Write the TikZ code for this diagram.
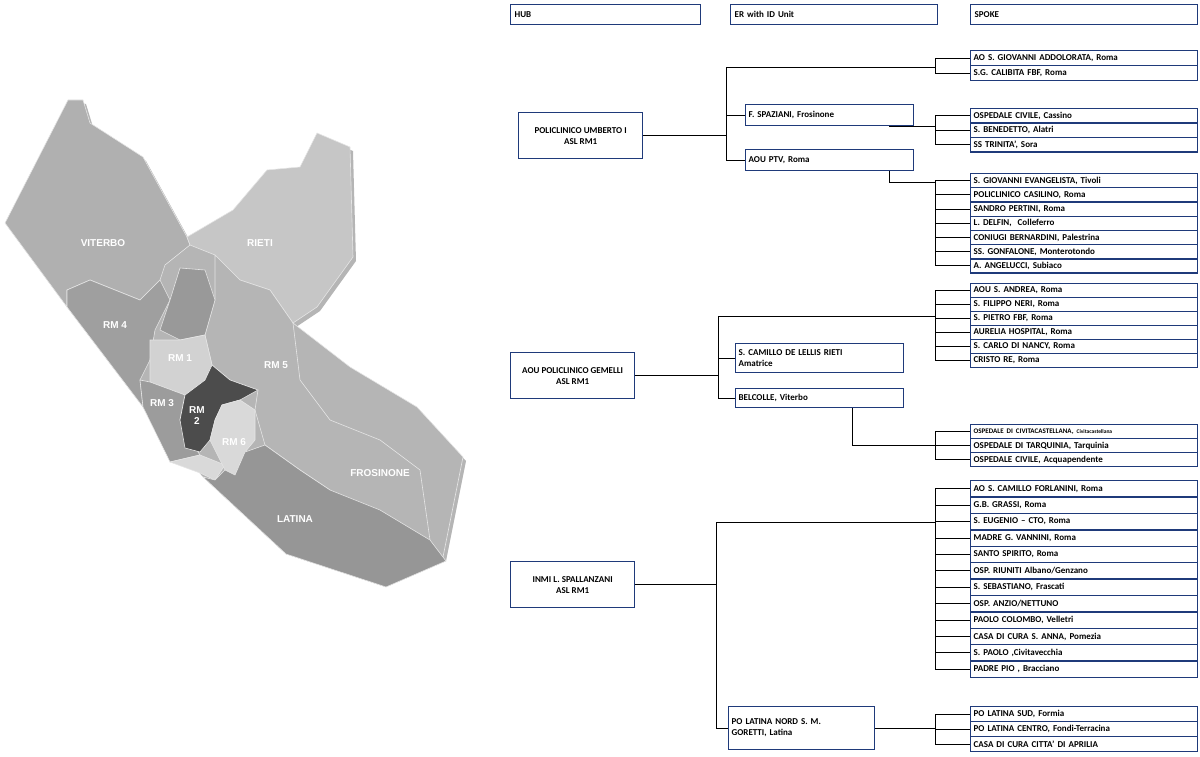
\documentclass[tikz,border=0pt]{standalone}
\usepackage{fontspec}
\setmainfont{Carlito}
\newfontfamily\mapf{Liberation Sans}
\definecolor{navy}{HTML}{1F3A7A}
\newcommand\spk[4]{\node[spk,minimum height=#3pt] (#1) at (970,#2) {#4};}
\begin{document}
\begin{tikzpicture}[x=1pt,y=-1pt,
  box/.style={draw=navy,line width=1.3pt,fill=white,font=\bfseries\fontsize{9}{11}\selectfont,inner sep=2pt},
  spk/.style={box,anchor=north west,minimum width=227pt,text width=221pt,align=left,inner ysep=0pt},
  hdr/.style={box,anchor=north west,minimum height=20pt,align=left,inner xsep=4pt},
  hub/.style={box,anchor=north west,minimum width=124pt,minimum height=46pt,align=center},
  er/.style={box,anchor=north west,minimum width=168pt,text width=162pt,align=left},
  ln/.style={line width=1pt,black},
  reg/.style={draw=white!80!gray,line width=0.6pt},
  lbl/.style={text=white,font=\mapf\bfseries\fontsize{10}{11}\selectfont,align=center}]
\useasboundingbox (0,0) rectangle (1200,757);
% ---------- map ----------
\fill[gray!58!white] (86,104)--(71,104)--(8,227)--(70,311)--(146,411)--(203,477)--(286,554)--(386,587)--(446,561)--(466,461)--(420,411)--(353,371)--(296,327)--(320,311)--(356,261)--(353,151)--(320,137)--(303,171)--(270,174)--(236,214)--(190,241)--(146,161)--(93,127)--cycle;
\path[reg,fill=gray!62!white] (83,100)--(68,100)--(5,223)--(67,307)--(67,290)--(90,280)--(140,300)--(160,280)--(165,265)--(190,245)--(187,237)--(143,157)--(90,123)--cycle;
\path[reg,fill=gray!45!white] (187,237)--(233,210)--(267,170)--(300,167)--(317,133)--(350,147)--(353,257)--(317,307)--(293,323)--(270,290)--(240,280)--(215,255)--(190,245)--cycle;
\path[reg,fill=gray!58!white] (215,255)--(240,280)--(270,290)--(293,323)--(350,367)--(417,407)--(463,457)--(443,557)--(383,583)--(330,490)--(300,470)--(265,445)--(255,410)--(258,390)--(230,380)--(212,365)--(205,335)--(215,300)--cycle;
\path[reg] (293,323)--(300,380)--(330,420)--(380,440)--(420,470)--(430,540);
\path[reg,fill=gray!75!white] (67,290)--(90,280)--(140,300)--(160,280)--(170,300)--(155,330)--(150,360)--(140,380)--(143,407)--(67,307)--cycle;
\path[reg,fill=gray!80!white] (170,300)--(180,268)--(205,270)--(215,300)--(205,335)--(180,340)--(160,330)--cycle;
\path[reg,fill=gray!35!white] (150,340)--(180,340)--(205,335)--(212,365)--(205,380)--(185,395)--(150,382)--cycle;
\path[reg,fill=gray!78!white] (140,380)--(150,382)--(185,395)--(180,420)--(190,440)--(200,455)--(170,462)--(143,407)--cycle;
\path[reg,fill=gray!30!white] (200,473)--(170,462)--(200,455)--(225,465)--(215,480)--cycle;
\path[reg,fill=black!70] (185,395)--(205,380)--(212,365)--(230,380)--(258,390)--(240,400)--(222,405)--(215,420)--(210,440)--(200,452)--(185,448)--(180,420)--cycle;
\path[reg,fill=gray!30!white] (215,420)--(222,405)--(240,400)--(255,410)--(255,440)--(245,452)--(235,475)--(225,470)--(210,440)--cycle;
\path[reg,fill=gray!82!white] (203,477)--(215,480)--(225,470)--(235,475)--(245,452)--(265,445)--(300,470)--(330,490)--(380,510)--(430,540)--(446,561)--(386,587)--(286,554)--cycle;
\node[lbl] (mv) at (103,243) {VITERBO};
\node[lbl] (mr) at (260,243) {RIETI};
\node[lbl] (m4) at (115,325) {RM 4};
\node[lbl] (m1) at (180,358) {RM 1};
\node[lbl] (m5) at (276,365) {RM 5};
\node[lbl] (m3) at (162,403) {RM 3};
\node[lbl] (m2) at (197,416) {RM\\2};
\node[lbl] (m6) at (234,442) {RM 6};
\node[lbl] (mf) at (380,473) {FROSINONE};
\node[lbl] (ml) at (295,519) {LATINA};
% ---------- headers ----------
\node[hdr,minimum width=190pt,text width=182pt] (hh) at (510,4) {HUB};
\node[hdr,minimum width=207pt,text width=199pt] (he) at (730,4) {ER with ID Unit};
\node[hdr,minimum width=227pt,text width=219pt] (hs) at (970,4) {SPOKE};
% ---------- hubs & ER ----------
\node[hub] (h1) at (518,112) {POLICLINICO UMBERTO I\\ASL RM1};
\node[hub] (h2) at (510,352) {AOU POLICLINICO GEMELLI\\ASL RM1};
\node[hub] (h3) at (510,561) {INMI L. SPALLANZANI\\ASL RM1};
\node[er,minimum height=21pt] (spa) at (745,104) {F. SPAZIANI, Frosinone};
\node[er,minimum height=21pt] (ptv) at (745,149) {AOU PTV, Roma};
\node[er,minimum height=29pt] (cam) at (735,343) {S. CAMILLO DE LELLIS RIETI\\Amatrice};
\node[er,minimum height=19pt] (bel) at (735,388) {BELCOLLE, Viterbo};
\node[er,minimum height=43pt,minimum width=146pt,text width=140pt] (pln) at (728,706) {PO LATINA NORD S. M.\\GORETTI, Latina};
% ---------- spokes ----------
\spk{a1}{50}{15}{AO S. GIOVANNI ADDOLORATA, Roma}
\spk{a2}{65}{15}{S.G. CALIBITA FBF, Roma}
\spk{b1}{108}{14.5}{OSPEDALE CIVILE, Cassino}
\spk{b2}{122.5}{14.5}{S. BENEDETTO, Alatri}
\spk{b3}{137}{14.5}{SS TRINITA', Sora}
\spk{c1}{173}{14.2}{S. GIOVANNI EVANGELISTA, Tivoli}
\spk{c2}{187.2}{14.2}{POLICLINICO CASILINO, Roma}
\spk{c3}{201.4}{14.2}{SANDRO PERTINI, Roma}
\spk{c4}{215.6}{14.2}{L. DELFIN,\ \ Colleferro}
\spk{c5}{229.8}{14.2}{CONIUGI BERNARDINI, Palestrina}
\spk{c6}{244}{14.2}{SS. GONFALONE, Monterotondo}
\spk{c7}{258.2}{14.2}{A. ANGELUCCI, Subiaco}
\spk{g1}{283}{14}{AOU S. ANDREA, Roma}
\spk{g2}{297}{14}{S. FILIPPO NERI, Roma}
\spk{g3}{311}{14}{S. PIETRO FBF, Roma}
\spk{g4}{325}{14}{AURELIA HOSPITAL, Roma}
\spk{g5}{339}{14}{S. CARLO DI NANCY, Roma}
\spk{g6}{353}{14}{CRISTO RE, Roma}
\spk{d1}{424}{14}{{\fontsize{7}{8}\selectfont OSPEDALE DI CIVITACASTELLANA, {\fontsize{5.5}{6}\selectfont Civitacastellana}}}
\spk{d2}{438}{14}{OSPEDALE DI TARQUINIA, Tarquinia}
\spk{d3}{452}{14}{OSPEDALE CIVILE, Acquapendente}
\spk{e1}{480}{16.4}{AO S. CAMILLO FORLANINI, Roma}
\spk{e2}{496.4}{16.4}{G.B. GRASSI, Roma}
\spk{e3}{512.8}{16.4}{S. EUGENIO -- CTO, Roma}
\spk{e4}{529.2}{16.4}{MADRE G. VANNINI, Roma}
\spk{e5}{545.6}{16.4}{SANTO SPIRITO, Roma}
\spk{e6}{562}{16.4}{OSP. RIUNITI Albano/Genzano}
\spk{e7}{578.4}{16.4}{S. SEBASTIANO, Frascati}
\spk{e8}{594.8}{16.4}{OSP. ANZIO/NETTUNO}
\spk{e9}{611.2}{16.4}{PAOLO COLOMBO, Velletri}
\spk{e10}{627.6}{16.4}{CASA DI CURA S. ANNA, Pomezia}
\spk{e11}{644}{16.4}{S. PAOLO ,Civitavecchia}
\spk{e12}{660.4}{16.4}{PADRE PIO , Bracciano}
\spk{f1}{706}{15}{PO LATINA SUD, Formia}
\spk{f2}{721}{15}{PO LATINA CENTRO, Fondi-Terracina}
\spk{f3}{736}{15}{CASA DI CURA CITTA' DI APRILIA}
% ---------- connectors ----------
\coordinate (brk) at (935,0);
\coordinate (t1) at (726,68);
\coordinate (t2) at (718,316);
\coordinate (t3) at (716,522);
\coordinate (sd) at (889,127);
\coordinate (pd) at (889,183);
\coordinate (bd) at (852,445);
\draw[ln] (h1.east) -- (h1.east -| t1);
\draw[ln] (t1) -- (t1 |- ptv.west) -- (ptv.west);
\draw[ln] (t1 |- spa.west) -- (spa.west);
\draw[ln] (t1) -- (t1 -| brk);
\draw[ln] (spa.south -| sd) -- (sd) -- (sd -| brk);
\draw[ln] (ptv.south -| pd) -- (pd) -- (pd -| brk);
\draw[ln] (h2.east) -- (h2.east -| t2);
\draw[ln] (t2) -- (t2 |- bel.west) -- (bel.west);
\draw[ln] (t2 |- cam.west) -- (cam.west);
\draw[ln] (t2) -- (t2 -| brk);
\draw[ln] (bel.south -| bd) -- (bd) -- (bd -| brk);
\draw[ln] (h3.east) -- (h3.east -| t3);
\draw[ln] (t3) -- (t3 |- pln.west) -- (pln.west);
\draw[ln] (t3) -- (t3 -| brk);
\draw[ln] (pln.east) -- (pln.east -| brk);
\foreach \first/\last/\list in {a1/a2/{a1,a2}, b1/b3/{b1,b2,b3}, c1/c7/{c1,c2,c3,c4,c5,c6,c7}, g1/g6/{g1,g2,g3,g4,g5,g6}, d1/d3/{d1,d2,d3}, e1/e12/{e1,e2,e3,e4,e5,e6,e7,e8,e9,e10,e11,e12}, f1/f3/{f1,f2,f3}}{
  \draw[ln] (brk |- \first.west) -- (brk |- \last.west);
  \foreach \s in \list {\draw[ln] (brk |- \s.west) -- (\s.west);}
}
\end{tikzpicture}
\end{document}
